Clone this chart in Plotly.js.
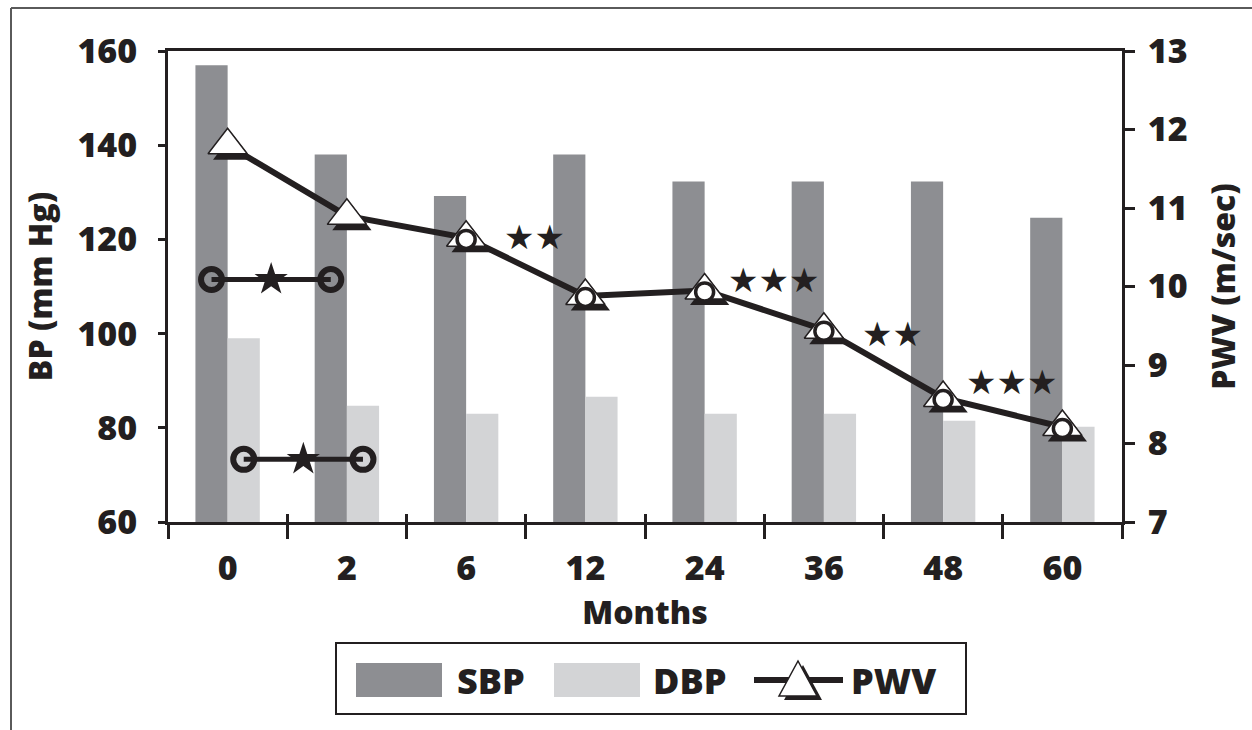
<!DOCTYPE html>
<html>
<head>
<meta charset="utf-8">
<script src="https://cdn.plot.ly/plotly-3.0.1.min.js"></script>
<style>
html,body{margin:0;padding:0;background:#fff;}
#chart{width:1252px;height:730px;}
</style>
</head>
<body>
<div id="chart"></div>
<script>
// ---- data ----
const months = ['0', '2', '6', '12', '24', '36', '48', '60'];
const sbp = [157, 138, 129.2, 138, 132.3, 132.3, 132.3, 124.6];
const dbp = [99, 84.7, 83, 86.6, 83, 83, 81.5, 80.2];
const pwv = [11.8, 10.9, 10.62, 9.88, 9.95, 9.45, 8.58, 8.21];
const pwvCircleMonths = ['6', '12', '24', '36', '48', '60'];
// significance between consecutive PWV points (segment starts at this month)
const pwvSigFrom = ['6', '24', '36', '48'];
const pwvSigStars = ['\u2605\u2605', '\u2605\u2605\u2605', '\u2605\u2605', '\u2605\u2605\u2605'];
// significance brackets for BP (between months)
const sbpSigMonths = ['0', '2'];
const sbpSigLevel = 111.5;
const dbpSigMonths = ['0', '2'];
const dbpSigLevel = 73.3;
const legendLabels = ['SBP', 'DBP', 'PWV'];

// ---- styling ----
const W = 1252, H = 730;
const M = {l: 168, r: 130, t: 51, b: 208};
const PW = W - M.l - M.r, PH = H - M.t - M.b;
const px = v => (v - M.l) / PW;
const py = v => (H - M.b - v) / PH;
const SBP_COLOR = '#8d8e92', DBP_COLOR = '#d3d4d6', INK = '#231f20';
const FONT = 'Open Sans, Noto Sans, DejaVu Sans, sans-serif';
const BARW = 0.27;
const SHX = 0.042, SHY = 0.076; // shadow offsets of triangles

const idx = months.map((m, i) => i);
const bounds = months.map((m, i) => i - 0.5).concat([months.length - 0.5]);
const mi = m => months.indexOf(m);

const traces = [];
traces.push({type: 'bar', name: 'SBP', x: idx, y: sbp, width: BARW, offset: -BARW,
  marker: {color: SBP_COLOR}, xaxis: 'x', yaxis: 'y', hoverinfo: 'skip'});
traces.push({type: 'bar', name: 'DBP', x: idx, y: dbp, width: BARW, offset: 0,
  marker: {color: DBP_COLOR}, xaxis: 'x', yaxis: 'y', hoverinfo: 'skip'});

// BP significance brackets
function bracket(ms, level, off) {
  const xs = ms.map(m => mi(m) + off);
  traces.push({type: 'scatter', mode: 'lines+markers', x: xs, y: xs.map(() => level),
    line: {color: INK, width: 5}, marker: {symbol: 'circle-open', size: 21, color: INK, line: {width: 6}},
    xaxis: 'x', yaxis: 'y', hoverinfo: 'skip'});
  traces.push({type: 'scatter', mode: 'markers', x: [(xs[0] + xs[1]) / 2], y: [level],
    marker: {symbol: 'star', size: 25, color: INK, line: {width: 0}},
    xaxis: 'x', yaxis: 'y', hoverinfo: 'skip'});
}
bracket(sbpSigMonths, sbpSigLevel, -BARW / 2);
bracket(dbpSigMonths, dbpSigLevel, BARW / 2);

// PWV line
traces.push({type: 'scatter', mode: 'lines', x: idx, y: pwv, line: {color: INK, width: 6},
  xaxis: 'x', yaxis: 'y2', hoverinfo: 'skip'});
// triangle shadow
traces.push({type: 'scatter', mode: 'markers', x: idx.map(i => i + SHX), y: pwv.map(v => v - SHY),
  marker: {symbol: 'triangle-up', size: 34, color: INK, line: {width: 0}},
  xaxis: 'x', yaxis: 'y2', hoverinfo: 'skip'});
// triangles
traces.push({type: 'scatter', mode: 'markers', x: idx, y: pwv,
  marker: {symbol: 'triangle-up', size: 34, color: '#ffffff', line: {color: INK, width: 1.5}},
  xaxis: 'x', yaxis: 'y2', hoverinfo: 'skip'});
// circles
traces.push({type: 'scatter', mode: 'markers', x: pwvCircleMonths.map(mi), y: pwvCircleMonths.map(m => pwv[mi(m)] - 0.02),
  marker: {symbol: 'circle', size: 18, color: '#ffffff', line: {color: INK, width: 3.5}},
  xaxis: 'x', yaxis: 'y2', hoverinfo: 'skip'});
// helper traces for boundary ticks
traces.push({type: 'scatter', mode: 'markers', x: bounds, y: bounds.map(() => 60), marker: {opacity: 0},
  xaxis: 'x2', yaxis: 'y', hoverinfo: 'skip'});
traces.push({type: 'scatter', mode: 'markers', x: bounds, y: bounds.map(() => 60), marker: {opacity: 0},
  xaxis: 'x3', yaxis: 'y', hoverinfo: 'skip'});

const tickFont = {family: FONT, size: 34, color: INK, weight: 800};
const titleFont = {family: FONT, size: 32, color: INK, weight: 800};

const annotations = pwvSigFrom.map((m, k) => {
  const i = mi(m);
  return {x: i + 0.5, y: (pwv[i] + pwv[i + 1]) / 2, xref: 'x', yref: 'y2', text: pwvSigStars[k],
    showarrow: false, yshift: 30, xshift: 9, font: {family: 'DejaVu Sans', size: 34, color: INK}};
});

// manual legend
const shapes = [];
const LT = 643, LB = 714, LY = 680;
shapes.push({type: 'rect', xref: 'paper', yref: 'paper', x0: px(336), x1: px(966), y0: py(LB), y1: py(LT),
  line: {color: INK, width: 2}, fillcolor: 'rgba(0,0,0,0)'});
shapes.push({type: 'rect', xref: 'paper', yref: 'paper', x0: px(356), x1: px(442), y0: py(697), y1: py(663),
  line: {width: 0}, fillcolor: SBP_COLOR});
shapes.push({type: 'rect', xref: 'paper', yref: 'paper', x0: px(554), x1: px(640), y0: py(697), y1: py(663),
  line: {width: 0}, fillcolor: DBP_COLOR});
shapes.push({type: 'line', xref: 'paper', yref: 'paper', x0: px(754), x1: px(843), y0: py(LY), y1: py(LY),
  line: {color: INK, width: 6}});
function tri(cx, cy, fill, lw) {
  const p = (x, y) => px(x) + ',' + py(y);
  return {type: 'path', xref: 'paper', yref: 'paper',
    path: 'M' + p(cx - 19, cy + 18) + ' L' + p(cx + 19, cy + 18) + ' L' + p(cx, cy - 17) + ' Z',
    fillcolor: fill, line: {color: INK, width: lw}};
}
shapes.push(tri(803, 682, INK, 0));
shapes.push(tri(798, 678, '#ffffff', 1.5));
// outer frame (top & left)
shapes.push({type: 'line', xref: 'paper', yref: 'paper', x0: px(11), x1: px(1252), y0: py(8), y1: py(8),
  line: {color: '#5a5a5a', width: 2}});
shapes.push({type: 'line', xref: 'paper', yref: 'paper', x0: px(11), x1: px(11), y0: py(8), y1: py(730),
  line: {color: '#5a5a5a', width: 2}});

const legFont = {family: FONT, size: 36, color: INK, weight: 800};
annotations.push({xref: 'paper', yref: 'paper', x: px(455), y: py(LY), xanchor: 'left', yanchor: 'middle',
  text: legendLabels[0], showarrow: false, font: legFont});
annotations.push({xref: 'paper', yref: 'paper', x: px(651), y: py(LY), xanchor: 'left', yanchor: 'middle',
  text: legendLabels[1], showarrow: false, font: legFont});
annotations.push({xref: 'paper', yref: 'paper', x: px(849), y: py(LY), xanchor: 'left', yanchor: 'middle',
  text: legendLabels[2], showarrow: false, font: legFont});

const layout = {
  width: W, height: H, margin: M, showlegend: false,
  paper_bgcolor: '#ffffff', plot_bgcolor: '#ffffff',
  barmode: 'overlay',
  xaxis: {type: 'linear', range: [-0.5, months.length - 0.5], tickvals: idx, ticktext: months,
    ticks: '', showgrid: false, zeroline: false, showline: true, linecolor: INK, linewidth: 3, mirror: true,
    tickfont: tickFont, ticklabelstandoff: 14,
    title: {text: 'Months', font: titleFont, standoff: 4}},
  xaxis2: {type: 'linear', overlaying: 'x', anchor: 'y', range: [-0.5, months.length - 0.5], tickvals: bounds,
    showticklabels: false, ticks: 'outside', ticklen: 16, tickwidth: 3, tickcolor: INK,
    showgrid: false, zeroline: false, showline: false},
  xaxis3: {type: 'linear', overlaying: 'x', anchor: 'y', range: [-0.5, months.length - 0.5], tickvals: bounds,
    showticklabels: false, ticks: 'inside', ticklen: 8, tickwidth: 3, tickcolor: INK,
    showgrid: false, zeroline: false, showline: false},
  yaxis: {range: [60, 160], dtick: 20, tick0: 60, ticks: 'outside', ticklen: 7, tickwidth: 3, tickcolor: INK,
    showgrid: false, zeroline: false, showline: true, linecolor: INK, linewidth: 3,
    tickfont: tickFont, ticklabelstandoff: 14, title: {text: 'BP (mm Hg)', font: titleFont, standoff: 16}},
  yaxis2: {overlaying: 'y', side: 'right', range: [7, 13], dtick: 1, tick0: 7, ticks: 'outside', ticklen: 10,
    tickwidth: 3, tickcolor: INK, showgrid: false, zeroline: false, showline: true, linecolor: INK, linewidth: 3,
    tickfont: tickFont, ticklabelstandoff: 6, title: {text: 'PWV (m/sec)', font: titleFont, standoff: 26}},
  shapes: shapes,
  annotations: annotations
};

Plotly.newPlot('chart', traces, layout, {staticPlot: true, displayModeBar: false});
</script>
</body>
</html>
